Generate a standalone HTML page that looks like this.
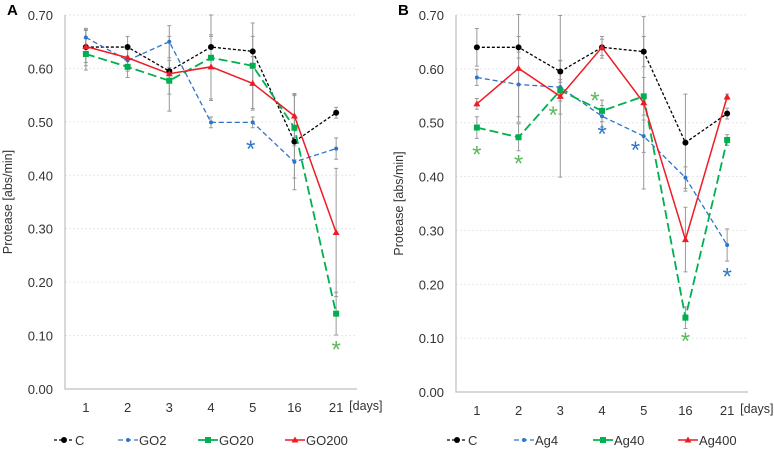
<!DOCTYPE html>
<html><head><meta charset="utf-8"><style>
body{margin:0;background:#fff}
svg text{font-family:"Liberation Sans",sans-serif}
</style></head><body>
<svg id="c" width="774" height="452" viewBox="0 0 774 452"></svg>
<script>
const categories=["1","2","3","4","5","16","21"];
const yTicks=[0,0.1,0.2,0.3,0.4,0.5,0.6,0.7];
const cA=[0.640,0.640,0.595,0.640,0.632,0.463,0.517];
const cAerr=[0.035,0.02,0.02,0.02,0.028,0.09,0.01];
const go2=[0.658,0.615,0.650,0.499,0.499,0.425,0.450];
const go2err=[0.015,0.02,0.03,0.01,0.01,0.03,0.02];
const go20=[0.627,0.603,0.577,0.620,0.605,0.489,0.141];
const go20err=[0.03,0.02,0.025,0.08,0.08,0.06,0.04];
const go200=[0.641,0.620,0.590,0.603,0.572,0.511,0.293];
const go200err=[0.03,0.02,0.07,0.06,0.05,0.04,0.12];
const ag4=[0.584,0.571,0.566,0.512,0.475,0.398,0.273];
const ag4err=[0.015,0.06,0.05,0.02,0.03,0.02,0.03];
const ag40=[0.491,0.473,0.560,0.522,0.549,0.138,0.468];
const ag40err=[0.02,0.025,0.02,0.02,0.035,0.02,0.01];
const ag400=[0.535,0.601,0.549,0.640,0.537,0.283,0.548];
const ag400err=[0.01,0.1,0.15,0.015,0.16,0.06,0.005];
const starsA=[{i:4,v:0.455,dx:-0.05,c:"#2e75c8"},{i:6,v:0.08,dx:0,c:"#5cb85c"}];
const starsB=[{i:0,v:0.447,dx:0,c:"#5cb85c"},{i:1,v:0.43,dx:0,c:"#5cb85c"},{i:2,v:0.52,dx:-0.17,c:"#5cb85c"},{i:3,v:0.547,dx:-0.17,c:"#5cb85c"},{i:5,v:0.10,dx:0,c:"#5cb85c"},{i:3,v:0.485,dx:0,c:"#2e75c8"},{i:4,v:0.455,dx:-0.2,c:"#2e75c8"},{i:6,v:0.22,dx:0,c:"#2e75c8"}];
const svg=document.getElementById('c');const NS="http://www.w3.org/2000/svg";
function el(t,a,txt){const e=document.createElementNS(NS,t);for(const k in a)e.setAttribute(k,a[k]);if(txt!==undefined)e.textContent=txt;svg.appendChild(e);return e;}
function panel(p){
 const xs=i=>p.x0+(i+0.5)*(p.x1-p.x0)/categories.length;
 const ys=v=>p.yb-(p.yb-p.yt)*v/0.7;
 let t=el('text',{x:p.x0-58,y:15,'font-size':15,'font-weight':'bold'},p.label);
 
 yTicks.forEach(v=>{
  if(v>0){const g=el('line',{x1:p.x0,x2:p.x1,y1:ys(v),y2:ys(v),stroke:'#e6e6e6','stroke-dasharray':'2,2'});}
  const l=el('text',{x:p.x0-12,y:ys(v)+5,'font-size':13,'text-anchor':'end',fill:'#333'},v.toFixed(2));
  
 });
 let a=el('polyline',{points:`${p.x0},${p.yt} ${p.x0},${p.yb} ${p.x1},${p.yb}`,fill:'none',stroke:'#bfbfbf','stroke-width':1.2});
 
 categories.forEach((c,i)=>{const l=el('text',{x:xs(i),y:p.yb+23,'font-size':13,'text-anchor':'middle',fill:'#333'},c);});
 let d=el('text',{x:xs(6)+13,y:p.yb+21,'font-size':12.5,fill:'#333'},'[days]');
 let yt=el('text',{transform:`translate(${p.x0-53},${(p.yt+p.yb)/2}) rotate(-90)`,'font-size':12.5,'text-anchor':'middle',fill:'#333'},'Protease  [abs/min]');
 
 p.series.forEach(s=>{s.vals.forEach((v,i)=>{const e=s.err[i];const x=xs(i);
  const b=el('path',{d:`M${x},${ys(v-e)}V${ys(v+e)}M${x-2},${ys(v-e)}h4M${x-2},${ys(v+e)}h4`,stroke:'#999','stroke-width':1});});});
 p.series.forEach(s=>{
  const pl=el('polyline',{points:s.vals.map((v,i)=>xs(i)+','+ys(v)).join(' '),fill:'none',stroke:s.c,'stroke-width':s.w,'stroke-dasharray':s.dash});
  
  s.vals.forEach((v,i)=>{const x=xs(i),y=ys(v);let m;
   if(s.m==='c')m=el('circle',{cx:x,cy:y,r:3,fill:s.c});
   else if(s.m==='s')m=el('rect',{x:x-3,y:y-3,width:6,height:6,fill:s.c});
   else if(s.m==='t')m=el('path',{d:`M${x},${y-3.5}L${x+3.5},${y+2.5}L${x-3.5},${y+2.5}Z`,fill:s.c});
   else m=el('circle',{cx:x,cy:y,r:2,fill:s.c});
   });
 });
 p.stars.forEach(st=>{const s=el('text',{x:xs(st.i+st.dx),y:ys(st.v)+11,'font-size':24,'text-anchor':'middle',fill:st.c},'*');});
 p.series.forEach((s,k)=>{const lx=p.lx[k],ly=440;
  const l=el('line',{x1:lx,x2:lx+20,y1:ly,y2:ly,stroke:s.c,'stroke-width':s.w,'stroke-dasharray':s.dash});
  let m;const x=lx+10;
  if(s.m==='c')m=el('circle',{cx:x,cy:ly,r:3,fill:s.c});else if(s.m==='s')m=el('rect',{x:x-3,y:ly-3,width:6,height:6,fill:s.c});else if(s.m==='t')m=el('path',{d:`M${x},${ly-3.5}L${x+3.5},${ly+2.5}L${x-3.5},${ly+2.5}Z`,fill:s.c});else m=el('circle',{cx:x,cy:ly,r:2,fill:s.c});
  
  const t=el('text',{x:lx+21,y:ly+5,'font-size':13,fill:'#333'},s.n);});
}
panel({label:'A',x0:65,x1:357,yt:15,yb:389,lx:[54,118,198,285],stars:starsA,series:[
 {n:'C',vals:cA,err:cAerr,c:'#000',w:1.3,dash:'3,2',m:'c'},
 {n:'GO2',vals:go2,err:go2err,c:'#2e75c8',w:1.3,dash:'5,3',m:'d'},
 {n:'GO20',vals:go20,err:go20err,c:'#00b050',w:1.8,dash:'9,4',m:'s'},
 {n:'GO200',vals:go200,err:go200err,c:'#ee1c24',w:1.5,dash:'',m:'t'}]});
panel({label:'B',x0:456,x1:748,yt:15,yb:392,lx:[447,514,593,678],stars:starsB,series:[
 {n:'C',vals:cA,err:cAerr,c:'#000',w:1.3,dash:'3,2',m:'c'},
 {n:'Ag4',vals:ag4,err:ag4err,c:'#2e75c8',w:1.3,dash:'5,3',m:'d'},
 {n:'Ag40',vals:ag40,err:ag40err,c:'#00b050',w:1.8,dash:'9,4',m:'s'},
 {n:'Ag400',vals:ag400,err:ag400err,c:'#ee1c24',w:1.5,dash:'',m:'t'}]});
</script>
</body></html>
